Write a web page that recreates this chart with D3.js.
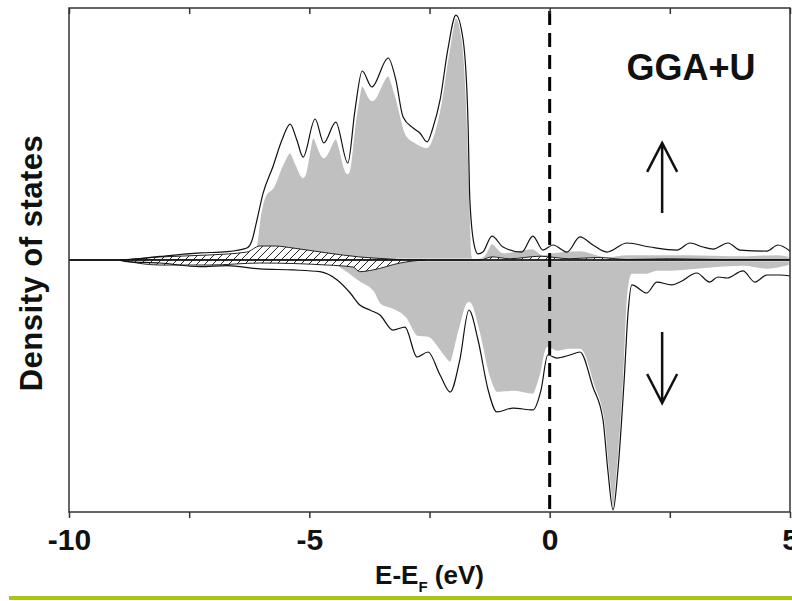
<!DOCTYPE html>
<html>
<head>
<meta charset="utf-8">
<script src="https://cdn.jsdelivr.net/npm/d3@7"></script>
<style>
  body { margin: 0; background: #fff; }
  svg { display: block; font-family: "Liberation Sans", Arial, sans-serif; }
</style>
</head>
<body>
<svg id="dos" width="792" height="601"></svg>
<script>
// total DOS, spin up [energy, dos]
var totalUp = [[-10,0],[-9,0],[-8.73,0.04],[-8.11,0.28],[-7.27,0.56],[-6.71,0.66],[-6.3,0.95],[-6.19,1.59],
  [-6.09,3.17],[-5.96,5.32],[-5.76,7.38],[-5.57,9.52],[-5.4,10.79],[-5.26,9.52],[-5.13,8.17],[-4.88,11.19],
  [-4.7,9.29],[-4.45,10.95],[-4.2,7.7],[-4.05,11.9],[-3.9,15.0],[-3.7,13.73],[-3.36,16.03],[-3.2,14.29],
  [-3.05,11.35],[-2.84,10.48],[-2.7,10.08],[-2.55,9.37],[-2.43,10.48],[-2.28,12.7],[-2.12,16.67],[-1.95,19.44],
  [-1.8,17.46],[-1.7,11.11],[-1.66,4.76],[-1.57,1.19],[-1.49,0.48],[-1.39,0.63],[-1.2,1.9],[-0.97,1.03],
  [-0.58,0.63],[-0.35,1.9],[-0.14,0.79],[0.07,1.19],[0.36,0.63],[0.63,1.83],[0.9,1.19],[1.19,0.63],
  [1.61,1.35],[2.09,1.03],[2.65,0.79],[2.92,1.35],[3.19,1.03],[3.4,0.87],[3.71,1.35],[3.96,0.79],
  [4.52,0.71],[4.75,1.19],[5,0.71]];

// total DOS, spin down
var totalDown = [[-10,0],[-9,0],[-8.79,-0.13],[-8.11,-0.24],[-7.27,-0.53],[-6.71,-0.45],[-6.03,-0.71],
  [-5.34,-0.79],[-4.78,-0.93],[-4.42,-1.59],[-4.15,-2.62],[-3.95,-3.57],[-3.74,-3.97],[-3.53,-4.37],
  [-3.26,-5.56],[-3.01,-5.32],[-2.76,-7.7],[-2.53,-7.3],[-2.28,-9.13],[-2.07,-10.48],[-1.87,-7.94],
  [-1.68,-3.97],[-1.49,-6.35],[-1.28,-10.32],[-1.1,-12.06],[-0.76,-11.75],[-0.35,-11.9],[-0.18,-10.32],
  [-0.04,-7.54],[0.15,-7.78],[0.42,-7.54],[0.63,-7.3],[0.9,-10.08],[1.11,-12.7],[1.21,-16.67],[1.32,-19.84],
  [1.42,-16.67],[1.55,-9.52],[1.63,-4.21],[1.71,-1.98],[2.02,-2.62],[2.23,-1.75],[2.54,-1.98],[2.71,-1.75],
  [3.06,-1.03],[3.33,-1.75],[3.5,-1.35],[3.69,-1.43],[4.02,-0.87],[4.27,-1.75],[4.52,-1.19],[4.79,-1.19],
  [5,-1.27]];

// grey partial DOS
var greyUp = [[-6.17,0],[-6.11,1.19],[-6.03,3.57],[-5.92,5.16],[-5.76,5.79],[-5.57,7.54],[-5.4,8.57],
  [-5.26,7.54],[-5.13,6.59],[-4.92,9.76],[-4.7,8.17],[-4.45,9.68],[-4.2,6.9],[-4.05,11.11],[-3.9,13.89],
  [-3.7,12.7],[-3.36,14.68],[-3.2,13.1],[-2.97,9.92],[-2.76,9.29],[-2.55,8.97],[-2.43,9.92],[-2.28,12.3],
  [-2.12,16.27],[-1.95,19.29],[-1.8,17.3],[-1.7,10.95],[-1.64,3.97],[-1.6,0.16],[-1.39,0.32],[-1.2,1.35],
  [-0.97,0.63],[-0.35,0.95],[-0.14,0.48],[0.07,0.63],[0.63,0.79],[1.19,0.32],[1.61,0.48],[2.92,0.48],
  [3.96,0.4],[4.75,0.48],[5,0.32]];

var greyDown = [[-6.44,-0.1],[-5.19,-0.16],[-4.78,-0.24],[-4.47,-0.48],[-4.26,-0.95],[-3.95,-1.83],
  [-3.68,-2.54],[-3.53,-3.57],[-3.26,-3.97],[-3.01,-4.6],[-2.76,-6.11],[-2.53,-6.19],[-2.28,-7.3],
  [-2.07,-8.17],[-1.87,-5.56],[-1.68,-3.41],[-1.49,-5.56],[-1.28,-9.13],[-1.1,-10.56],[-0.76,-10.48],
  [-0.35,-10.71],[-0.18,-9.13],[-0.04,-6.98],[0.15,-7.3],[0.42,-7.14],[0.63,-7.14],[0.9,-9.92],[1.11,-12.7],
  [1.21,-16.67],[1.32,-19.84],[1.42,-16.67],[1.55,-9.52],[1.63,-3.17],[1.71,-1.19],[2.02,-1.19],
  [2.23,-0.95],[2.54,-0.95],[3.06,-0.79],[4.02,-0.56],[4.52,-0.79],[5,-0.48]];

// hatched partial DOS
var hatchUp = [[-8.94,0],[-8.79,0.04],[-8.11,0.24],[-7.07,0.4],[-6.3,0.63],[-6.03,1.11],[-5.71,1.11],
  [-5.34,0.95],[-4.63,0.56],[-3.95,0.24],[-3.32,0.08],[-2.91,0],[-1.45,0],[-1.2,0.25],[-0.83,0.1],
  [-0.2,0.3],[0.42,0.1],[1.0,0.2],[1.6,0.05],[2.5,0.1],[3.5,0.05],[5,0.05]];

var hatchDown = [[-8.94,0],[-8.11,-0.4],[-7.07,-0.4],[-6.03,-0.24],[-4.63,-0.4],[-4.09,-0.56],
  [-3.95,-0.93],[-3.68,-0.79],[-3.11,-0.24],[-2.84,-0.08],[-2.59,0]];

var xTicks = [-10, -7.5, -5, -2.5, 0, 2.5, 5];
var xLabels = [-10, -5, 0, 5];

// spin arrows [energy, from, to]
var arrows = [[2.34, 3.73, 9.29], [2.34, -5.71, -11.35]];

var margin = {top: 8, right: 2, bottom: 89, left: 69},
    width = 792 - margin.left - margin.right,
    height = 601 - margin.top - margin.bottom;

var x = d3.scaleLinear().domain([-10, 5]).range([0, width]);
var y = d3.scaleLinear().domain([-20, 20]).range([height, 0]);

var svg = d3.select("#dos");

// hatch pattern
svg.append("defs").append("pattern")
    .attr("id", "hatch")
    .attr("patternUnits", "userSpaceOnUse")
    .attr("width", 8).attr("height", 8)
  .call(function(p) {
    p.append("rect").attr("width", 8).attr("height", 8).attr("fill", "#fff");
    p.append("path").attr("d", "M-2,10 L10,-2 M-2,2 L2,-2 M6,10 L10,6")
      .attr("stroke", "#222").attr("stroke-width", 1);
  });

var g = svg.append("g")
    .attr("transform", "translate(" + margin.left + "," + margin.top + ")");

var area = d3.area()
    .curve(d3.curveMonotoneX)
    .x(function(d) { return x(d[0]); })
    .y0(y(0))
    .y1(function(d) { return y(d[1]); });

var line = d3.line()
    .curve(d3.curveMonotoneX)
    .x(function(d) { return x(d[0]); })
    .y(function(d) { return y(d[1]); });

// grey areas with white outline
[greyUp, greyDown].forEach(function(s) {
  g.append("path").datum(s)
    .attr("d", area)
    .attr("fill", "#c0c0c0")
    .attr("stroke", "#fff")
    .attr("stroke-width", 2.5);
});

// hatched areas
[hatchUp, hatchDown].forEach(function(s) {
  g.append("path").datum(s)
    .attr("d", area)
    .attr("fill", "url(#hatch)")
    .attr("stroke", "#222")
    .attr("stroke-width", 1);
});

// total DOS lines
[totalUp, totalDown].forEach(function(s) {
  g.append("path").datum(s)
    .attr("d", line)
    .attr("fill", "none")
    .attr("stroke", "#111")
    .attr("stroke-width", 1.2);
});

// zero line
g.append("line")
    .attr("x1", 0).attr("x2", width)
    .attr("y1", y(0)).attr("y2", y(0))
    .attr("stroke", "#111").attr("stroke-width", 1.6);

// fermi level
g.append("line")
    .attr("x1", x(0)).attr("x2", x(0))
    .attr("y1", 3).attr("y2", height)
    .attr("stroke", "#000").attr("stroke-width", 3)
    .attr("stroke-dasharray", "14,8");

// frame
g.append("rect")
    .attr("width", width).attr("height", height)
    .attr("fill", "none")
    .attr("stroke", "#333").attr("stroke-width", 1.5);

// axes
var xTop = g.append("g")
    .call(d3.axisTop(x).tickValues(xTicks).tickSize(-6).tickFormat(""));
var xBottom = g.append("g")
    .attr("transform", "translate(0," + height + ")")
    .call(d3.axisBottom(x).tickValues(xTicks).tickSize(6).tickPadding(11)
      .tickFormat(function(d) { return xLabels.indexOf(d) >= 0 ? String(d) : ""; }));

[xTop, xBottom].forEach(function(a) {
  a.select(".domain").remove();
  a.selectAll(".tick line").attr("stroke", "#333").attr("stroke-width", 1.5);
});
xBottom.selectAll(".tick text")
    .attr("fill", "#111")
    .style("font-size", "30px")
    .style("font-weight", "bold")
    .style("font-family", "'Liberation Sans', Arial, sans-serif");

// x title
var xt = g.append("text")
    .attr("x", x(-2.5))
    .attr("y", 576)
    .attr("text-anchor", "middle")
    .attr("fill", "#111")
    .style("font-size", "26px")
    .style("font-weight", "bold");
xt.append("tspan").text("E-E");
xt.append("tspan").attr("dy", 8).style("font-size", "15px").text("F");
xt.append("tspan").attr("dy", -8).text(" (eV)");

// y title
svg.append("text")
    .attr("transform", "translate(42,263) rotate(-90)")
    .attr("text-anchor", "middle")
    .attr("fill", "#111")
    .style("font-size", "31px")
    .style("font-weight", "bold")
    .style("letter-spacing", "0.5px")
    .text("Density of states");

// label
g.append("text")
    .attr("x", x(1.6))
    .attr("y", 72)
    .attr("fill", "#111")
    .style("font-size", "36px")
    .style("font-weight", "bold")
    .text("GGA+U");

// spin arrows
arrows.forEach(function(a) {
  var ax = x(a[0]), y0 = y(a[1]), y1 = y(a[2]);
  var dir = y1 < y0 ? 1 : -1;
  g.append("path")
    .attr("d", "M" + ax + "," + y0 + "L" + ax + "," + y1 +
      "M" + (ax - 15) + "," + (y1 + dir * 29) + "L" + ax + "," + y1 + "L" + (ax + 15) + "," + (y1 + dir * 29))
    .attr("fill", "none")
    .attr("stroke", "#111")
    .attr("stroke-width", 2.5);
});

// green rule at the bottom
svg.append("rect")
    .attr("x", 9).attr("y", 596)
    .attr("width", 783).attr("height", 4)
    .attr("fill", "#a8c70f");
</script>
</body>
</html>
